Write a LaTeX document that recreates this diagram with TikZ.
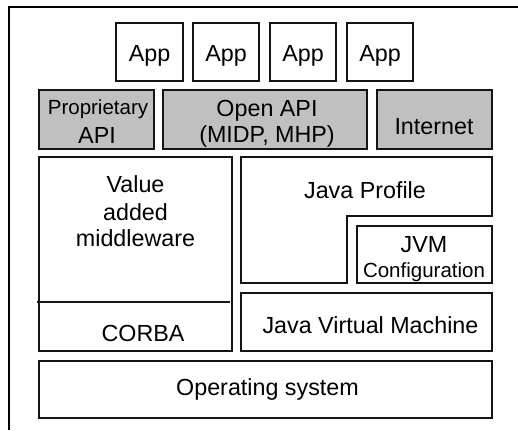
\documentclass[tikz,border=0pt]{standalone}
\usepackage{fontspec}
\setmainfont{Liberation Sans}
\definecolor{apigray}{RGB}{192,192,192}
\definecolor{edge}{RGB}{20,20,20}

\begin{document}
\begin{tikzpicture}[x=1pt, y=-1pt,
  layer/.style={draw=edge, line width=1.2pt},
  apibox/.style={layer, fill=apigray},
  lbl/.style={anchor=base, inner sep=0pt, font=\fontsize{23.3}{27}\selectfont},
  small/.style={lbl, font=\fontsize{20.5}{24}\selectfont}]
\useasboundingbox (0,0) rectangle (518,430);
% outer frame (only top and left edges show)
\draw[line width=2pt] (8.5,430) -- (8.5,7.5) -- (518,7.5);

% apps
\draw[layer] (116,23) rectangle (183,81);
\draw[layer] (193,23) rectangle (259,81);
\draw[layer] (270,23) rectangle (336,81);
\draw[layer] (347,23) rectangle (413,81);
\node[lbl] (app1) at (149.5,62) {App};
\node[lbl] (app2) at (226,62) {App};
\node[lbl] (app3) at (303,62) {App};
\node[lbl] (app4) at (380,62) {App};

% api row
\draw[apibox] (39,90) rectangle (154,149);
\draw[apibox] (163,90) rectangle (367,149);
\draw[apibox] (377,90) rectangle (492,149);
\node[small] (prop1) at (98,115) {Proprietary};
\node[lbl] (prop2) at (97,144) {API};
\node[lbl] (open1) at (267,117) {Open API};
\node[lbl] (open2) at (267,143) {(MIDP, MHP)};
\node[lbl] (inet) at (434,135) {Internet};

% middleware + corba
\draw[layer] (39,157) rectangle (232,351);
\draw[layer] (37,302) -- (230,302);
\node[lbl] (val1) at (135.5,193) {Value};
\node[lbl] (val2) at (135.5,220) {added};
\node[lbl] (val3) at (135.5,246) {middleware};
\node[lbl] (corba) at (143,341) {CORBA};

% java stack
\draw[layer] (241,157) -- (492,157) -- (492,216) -- (347,216) -- (347,283) -- (241,283) -- cycle;
\node[lbl] (prof) at (365,198) {Java Profile};
\draw[layer] (357,226) rectangle (492,283);
\node[lbl] (jvm) at (424,252) {JVM};
\node[small] (conf) at (424,277) {Configuration};
\draw[layer] (241,293) rectangle (492,351);
\node[lbl] (vm) at (370.5,333) {Java Virtual Machine};

% os
\draw[layer] (39,361) rectangle (492,418);
\node[lbl] (os) at (267.5,395) {Operating system};
\end{tikzpicture}
\end{document}
